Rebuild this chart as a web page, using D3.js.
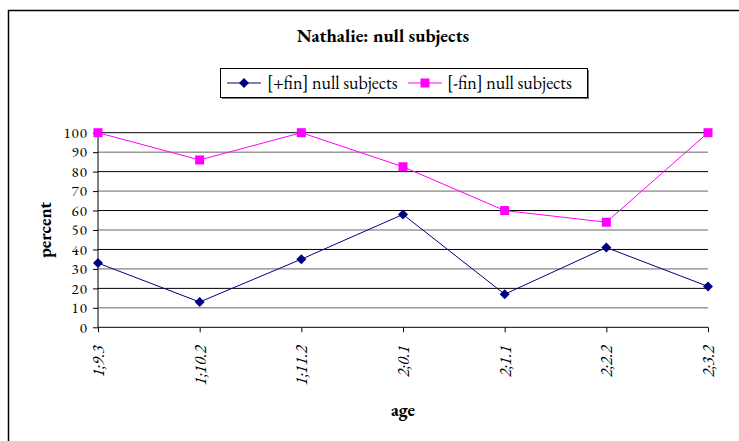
<!DOCTYPE html>
<html><head><meta charset="utf-8">
<script src="https://cdn.jsdelivr.net/npm/d3@7"></script>
<style>body{margin:0;background:#fff}svg{display:block}</style>
</head><body>
<svg id="c" width="739" height="441"></svg>
<script>
const ages = ["1;9.3","1;10.2","1;11.2","2;0.1","2;1.1","2;2.2","2;3.2"];
const finNull = [33, 13, 35, 58, 17, 41, 21];
const nonfinNull = [100, 86, 100, 82.5, 60, 54, 100];
const yTicks = [0,10,20,30,40,50,60,70,80,90,100];
const seriesNames = ["[+fin] null subjects", "[-fin] null subjects"];
const seriesColors = ["#000080", "#ff00ff"];

const FONT = '"EB Garamond", "Liberation Serif", serif';
const svg = d3.select("#c");
const L = 98, R = 708, T = 132.7, B = 327.3;

// outer frame
svg.append("rect").attr("x", 8.5).attr("y", 10.5).attr("width", 760).attr("height", 460)
  .attr("fill", "none").attr("stroke", "#000").attr("stroke-width", 1.5);

const x = d3.scalePoint().domain(ages).range([L, R]);
const y = d3.scaleLinear().domain([0, 100]).range([B, T]);

// gridlines
svg.append("g").selectAll("line").data(yTicks.filter(d => d > 0)).join("line")
  .attr("x1", L).attr("x2", R).attr("y1", d => y(d)).attr("y2", d => y(d))
  .attr("stroke", d => (d / 10) % 2 === 0 ? "#000" : "#666").attr("stroke-width", 1);

// y axis
const ya = svg.append("g").attr("transform", `translate(${L},0)`)
  .call(d3.axisLeft(y).tickValues(yTicks).tickSize(5).tickPadding(5));
ya.selectAll("text").style("font-family", FONT).style("font-size", "15px")
  .style("letter-spacing", "1px").attr("fill", "#000");
ya.selectAll("line,path").attr("stroke", "#000");
ya.select(".domain").attr("d", `M0,${B}V${T}`);

// x axis
const xa = svg.append("g").attr("transform", `translate(0,${B})`)
  .call(d3.axisBottom(x).tickSize(5).tickSizeOuter(0));
xa.select(".domain").attr("d", `M${L},0H${R}`).attr("stroke", "#000");
xa.selectAll("line").attr("stroke", "#000");
xa.selectAll("text")
  .style("font-family", FONT).style("font-size", "17px").style("font-style", "italic").attr("fill", "#000")
  .attr("transform", "rotate(-90)").attr("text-anchor", "end")
  .attr("x", -18).attr("y", 0).attr("dy", "0.32em");

// lines
const line = d3.line().x((d, i) => x(ages[i])).y(d => y(d));
[finNull, nonfinNull].forEach((data, k) => {
  svg.append("path").datum(data).attr("d", line).attr("fill", "none")
    .attr("stroke", seriesColors[k]).attr("stroke-width", 1);
});
const diamond = "M0,-5L5,0L0,5L-5,0Z";
svg.append("g").selectAll("path").data(finNull).join("path")
  .attr("d", diamond)
  .attr("transform", (d, i) => `translate(${x(ages[i])},${y(d)})`)
  .attr("fill", seriesColors[0]);
svg.append("g").selectAll("rect").data(nonfinNull).join("rect")
  .attr("x", (d, i) => x(ages[i]) - 4.5).attr("y", d => y(d) - 4.5)
  .attr("width", 9).attr("height", 9).attr("fill", seriesColors[1]);

// title
svg.append("text").attr("x", 383).attr("y", 42).attr("text-anchor", "middle")
  .style("font-family", FONT).style("font-weight", "bold").style("font-size", "18.5px")
  .text("Nathalie: null subjects");

// axis titles
svg.append("text").attr("transform", "translate(51,230) rotate(-90)").attr("text-anchor", "middle")
  .style("font-family", FONT).style("font-weight", "bold").style("font-size", "18px").text("percent");
svg.append("text").attr("x", 403).attr("y", 416).attr("text-anchor", "middle")
  .style("font-family", FONT).style("font-weight", "bold").style("font-size", "18px").text("age");

// legend
const lg = svg.append("g");
lg.append("rect").attr("x", 220.5).attr("y", 68.5).attr("width", 367).attr("height", 29)
  .attr("fill", "#fff").attr("stroke", "#000").attr("stroke-width", 1);
lg.append("rect").attr("x", 222).attr("y", 98).attr("width", 367).attr("height", 1).attr("fill", "#777");
lg.append("rect").attr("x", 588).attr("y", 70).attr("width", 1).attr("height", 29).attr("fill", "#777");
const lx = [227, 408], tx = [267, 447];
seriesNames.forEach((name, k) => {
  lg.append("line").attr("x1", lx[k]).attr("x2", lx[k] + 34).attr("y1", 83).attr("y2", 83)
    .attr("stroke", seriesColors[k]).attr("stroke-width", 1);
  if (k === 0) {
    lg.append("path").attr("d", diamond)
      .attr("transform", `translate(${lx[k] + 17},83)`).attr("fill", seriesColors[k]);
  } else {
    lg.append("rect").attr("x", lx[k] + 17 - 4.5).attr("y", 78.5).attr("width", 9).attr("height", 9)
      .attr("fill", seriesColors[k]);
  }
  lg.append("text").attr("x", tx[k]).attr("y", 88.5)
    .style("font-family", FONT).style("font-size", "18px").text(name);
});
</script>
</body></html>
